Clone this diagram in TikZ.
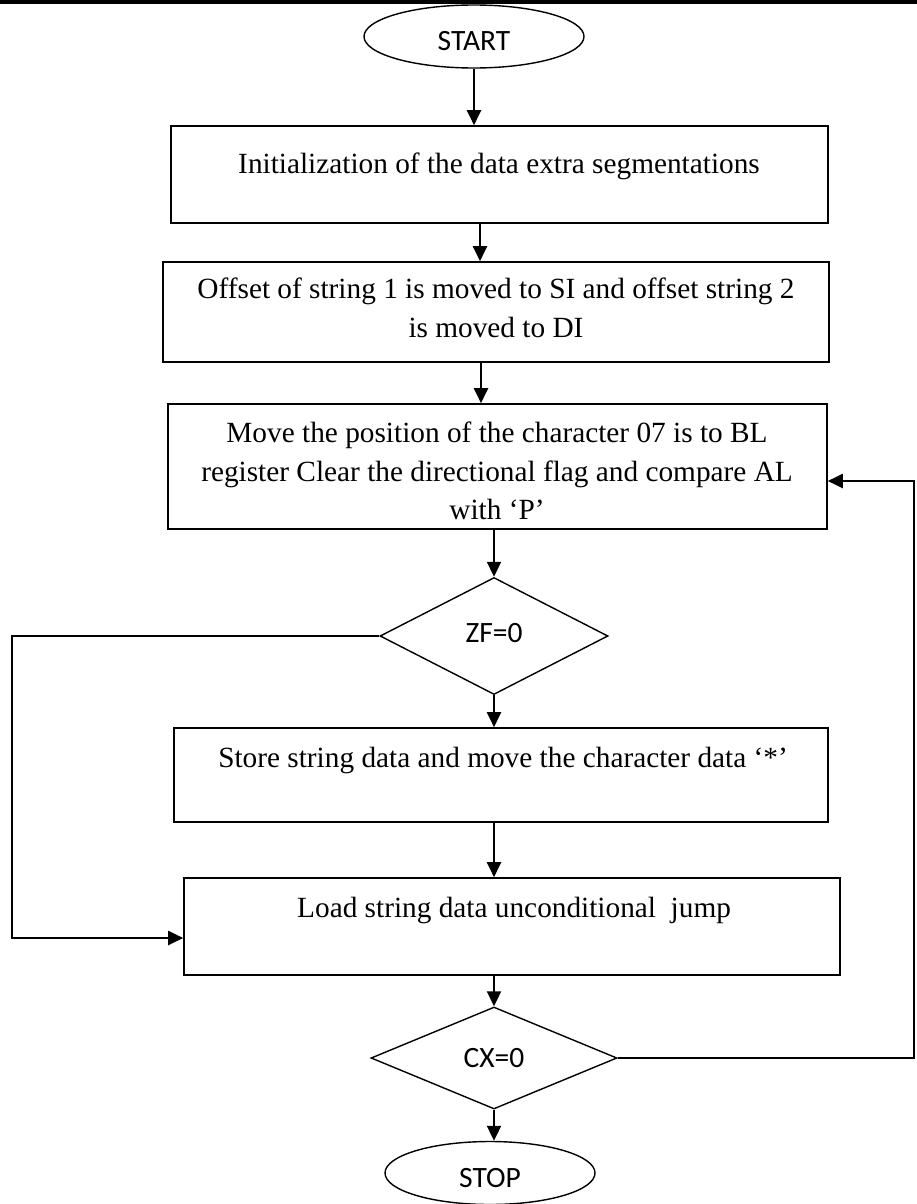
\documentclass[tikz,border=0pt]{standalone}
\usepackage{fontspec}
\setmainfont{Liberation Serif}
\newfontfamily\labelfont{Carlito}
\usetikzlibrary{arrows.meta,shapes.geometric}
\begin{document}
\begin{tikzpicture}[x=1pt,y=-1pt,
  box/.style={draw, line width=1.6pt, rectangle, inner sep=0pt},
  term/.style={draw, line width=1.4pt, ellipse, inner sep=0pt,
    text height=28pt, text depth=0pt,
    font=\labelfont\fontsize{29.5}{32}\selectfont},
  test/.style={draw, line width=1.4pt, diamond, inner sep=0pt,
    font=\labelfont\fontsize{29.5}{32}\selectfont},
  txt/.style={inner sep=0pt, anchor=base, font=\fontsize{29.3}{38}\selectfont},
  arr/.style={line width=2pt, -{Triangle[length=15pt,width=14pt]}},
]
\useasboundingbox (0,0) rectangle (917,1204);

% rule across the top of the page
\draw[line width=3.5pt] (0,2) -- (917,2);

% terminals, process boxes and tests
\node[term, minimum width=220pt, minimum height=63pt] (start) at (474,36.5) {START};
\node[box, minimum width=657pt, minimum height=97pt]  (b1) at (499.5,174.5) {};
\node[box, minimum width=666pt, minimum height=100pt] (b2) at (496,312) {};
\node[box, minimum width=659pt, minimum height=125pt] (b3) at (497.5,466.5) {};
\node[test, minimum width=228pt, minimum height=117pt, text depth=6pt] (zf) at (494,636) {ZF=0};
\node[box, minimum width=654pt, minimum height=94pt]  (b4) at (501,775) {};
\node[box, minimum width=656pt, minimum height=97pt]  (b5) at (512,926.5) {};
\node[test, minimum width=246pt, minimum height=102pt] (cx) at (494,1058) {CX=0};
\node[term, minimum width=210pt, minimum height=63pt] (stop) at (490,1173) {STOP};

% box texts
\node[txt] (t1)  at (499,173) {Initialization of the data extra segmentations};
\node[txt] (t2a) at (496,298) {Offset of string 1 is moved to SI and offset string 2};
\node[txt] (t2b) at (496,337) {is moved to DI};
\node[txt] (t3a) at (497,442) {Move the position of the character 07 is to BL};
\node[txt] (t3b) at (497,481) {register Clear the directional flag and compare AL};
\node[txt] (t3c) at (497,519) {with ‘P’};
\node[txt] (t4)  at (503,767) {Store string data and move the character data ‘*’};
\node[txt, anchor=base west] (t5) at (297,917) {Load string data unconditional\ \ jump};

% flow connectors
\draw[arr] (start.south) -- (b1.north -| start.south);
\draw[arr] ([xshift=-19.5pt]b1.south) -- ([xshift=-16pt]b2.north);
\draw[arr] ([xshift=-15pt]b2.south) -- ([xshift=-16.5pt]b3.north);
\draw[arr] (b3.south -| zf.north) -- (zf.north);
\draw[arr] (zf.south) -- (zf.south |- b4.north);
\draw[arr] (b4.south -| zf.south) -- (b5.north -| zf.south);
\draw[arr] (b5.south -| cx.north) -- (cx.north);
\draw[arr] (cx.south) -- (cx.south |- stop.north);

% loop-back connectors
\coordinate (lj) at (12,938);
\coordinate (rj) at (914,481);
\draw[arr] (zf.west) -| (lj) -- (lj -| b5.west);
\draw[arr] (cx.east) -| (rj) -- (rj -| b3.east);
\end{tikzpicture}
\end{document}
